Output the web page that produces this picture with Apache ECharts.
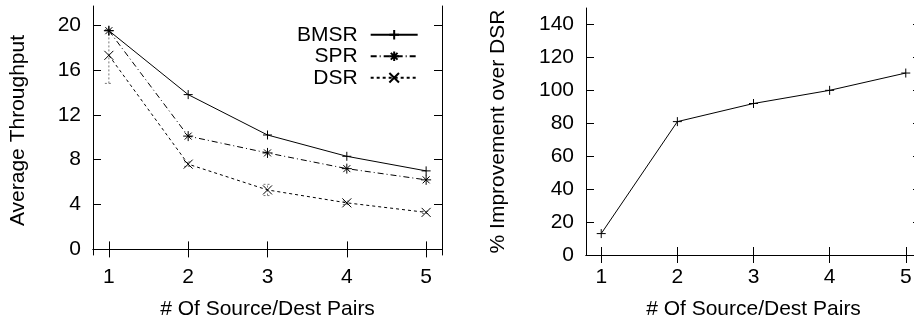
<!DOCTYPE html>
<html>
<head>
<meta charset="utf-8">
<script src="https://cdn.jsdelivr.net/npm/echarts@6/dist/echarts.min.js"></script>
<style>
  html, body { margin: 0; padding: 0; background: #fff; }
  #chart { width: 914px; height: 321px; }
</style>
</head>
<body>
<div id="chart"></div>
<script>
// data
const pairs = [1, 2, 3, 4, 5];
const bmsr = [19.5, 13.8, 10.2, 8.3, 7.0];
const spr = [19.5, 10.1, 8.6, 7.2, 6.2];
const dsr = [17.3, 7.6, 5.3, 4.15, 3.3];
const dsrLow = [14.8, 7.4, 4.8, 4.0, 3.2];
const dsrHigh = [19.6, 7.8, 5.8, 4.3, 3.4];
const improvement = [13, 81, 92, 100, 110.5];

const leftTicks = [0, 4, 8, 12, 16, 20];
const rightTicks = [0, 20, 40, 60, 80, 100, 120, 140];

const FONT = 'Liberation Sans';
const FS = 21;
const plusSym = 'path://M0,5L10,5M5,0L5,10';
const starSym = 'path://M0,5L10,5M5,0L5,10M1.5,1.5L8.5,8.5M8.5,1.5L1.5,8.5';
const crossSym = 'path://M0,0L10,10M10,0L0,10';

const chart = echarts.init(document.getElementById('chart'));

const lineAxis = { show: true, lineStyle: { color: '#000', width: 1 } };
const label = { color: '#000', fontFamily: FONT, fontSize: FS, margin: 12 };

function xAxes(gridIndex) {
  return [{
    type: 'value', gridIndex, min: 0.8, max: 5.2, position: 'bottom',
    axisLine: lineAxis,
    axisTick: { inside: true, length: 8, lineStyle: { color: '#000' }, customValues: pairs },
    axisLabel: Object.assign({ customValues: pairs }, label),
    splitLine: { show: false },
    name: '# Of Source/Dest Pairs', nameLocation: 'middle', nameGap: 44,
    nameTextStyle: { color: '#000', fontFamily: FONT, fontSize: FS }
  }, {
    type: 'value', gridIndex, min: 0.8, max: 5.2, position: 'top',
    axisLine: lineAxis,
    axisTick: { inside: true, length: 8, lineStyle: { color: '#000' }, customValues: pairs },
    axisLabel: { show: false },
    splitLine: { show: false }
  }];
}

function yAxes(gridIndex, min, max, ticks, name, gap) {
  return [{
    type: 'value', gridIndex, min, max, position: 'left',
    axisLine: lineAxis,
    axisTick: { inside: true, length: 8, lineStyle: { color: '#000' }, customValues: ticks },
    axisLabel: Object.assign({ customValues: ticks }, label),
    splitLine: { show: false },
    name, nameLocation: 'middle', nameGap: gap, nameRotate: 90,
    nameTextStyle: { color: '#000', fontFamily: FONT, fontSize: FS }
  }, {
    type: 'value', gridIndex, min, max, position: 'right',
    axisLine: lineAxis,
    axisTick: { inside: true, length: 8, lineStyle: { color: '#000' }, customValues: ticks },
    axisLabel: { show: false },
    splitLine: { show: false }
  }];
}

function lineSeries(name, values, symbol, size, dash, xi, yi) {
  return {
    name, type: 'line', xAxisIndex: xi, yAxisIndex: yi,
    data: values.map((v, i) => [pairs[i], v]),
    symbol, symbolSize: size,
    lineStyle: { color: '#000', width: 1, type: dash },
    itemStyle: { color: '#000', borderColor: '#000', borderWidth: 1 },
    emphasis: { disabled: true },
    animation: false
  };
}

chart.setOption({
  animation: false,
  grid: [
    { left: 93, width: 349, top: 6, bottom: 66, outerBoundsMode: 'none' },
    { left: 586, width: 335, top: 8, bottom: 66, outerBoundsMode: 'none' }
  ],
  xAxis: xAxes(0).concat(xAxes(1)),
  yAxis: yAxes(0, -0.5, 21.7, leftTicks, 'Average Throughput', 64)
    .concat(yAxes(1, 0, 150, rightTicks, '% Improvement over DSR', 77)),
  legend: {
    orient: 'vertical', align: 'right', left: 292, top: 19,
    itemWidth: 47, itemHeight: 12, itemGap: 0,
    textStyle: { color: '#000', fontFamily: FONT, fontSize: FS, lineHeight: 21.5, padding: [0, 8, 0, 0] },
    data: ['BMSR', 'SPR', 'DSR']
  },
  series: [
    {
      type: 'custom', xAxisIndex: 0, yAxisIndex: 0,
      data: pairs.map((p, i) => [p, dsrLow[i], dsrHigh[i]]),
      renderItem(params, api) {
        const lo = api.coord([api.value(0), api.value(1)]);
        const hi = api.coord([api.value(0), api.value(2)]);
        const st = { stroke: '#777', lineWidth: 1, lineDash: [2, 2] };
        return {
          type: 'group',
          children: [
            { type: 'line', shape: { x1: lo[0], y1: lo[1], x2: hi[0], y2: hi[1] }, style: st },
            { type: 'line', shape: { x1: lo[0] - 4, y1: lo[1], x2: lo[0] + 4, y2: lo[1] }, style: st },
            { type: 'line', shape: { x1: hi[0] - 4, y1: hi[1], x2: hi[0] + 4, y2: hi[1] }, style: st }
          ]
        };
      },
      silent: true, z: 1
    },
    lineSeries('BMSR', bmsr, plusSym, 9, 'solid', 0, 0),
    lineSeries('SPR', spr, starSym, 10, [6, 3, 1, 3], 0, 0),
    lineSeries('DSR', dsr, crossSym, 9, [3, 3], 0, 0),
    lineSeries('Improvement', improvement, plusSym, 9, 'solid', 2, 2)
  ]
});
</script>
</body>
</html>
